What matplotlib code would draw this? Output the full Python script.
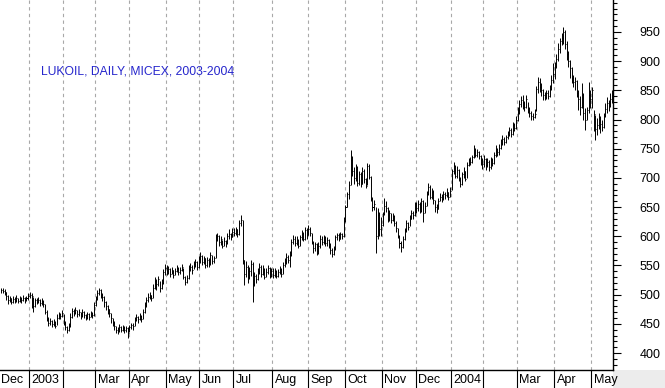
import matplotlib
matplotlib.use("Agg")
import matplotlib.pyplot as plt
from matplotlib.ticker import MultipleLocator, NullFormatter
from matplotlib.transforms import blended_transform_factory
import numpy as np

title = "LUKOIL, DAILY, MICEX, 2003-2004"

# months shown and number of trading days in each (Dec 2002 partial, May 2004 partial)
month_labels = ["Dec", "2003", "", "Mar", "Apr", "May", "Jun", "Jul", "Aug", "Sep",
                "Oct", "Nov", "Dec", "2004", "", "Mar", "Apr", "May"]
month_days = [17, 20, 19, 20, 22, 20, 20, 23, 21, 22, 22, 20, 21, 19, 20, 22, 22, 13]

close = [
    # Dec 2002
    508, 506, 504, 498, 490, 494, 488, 492, 490, 495, 489, 493, 491, 495, 490, 494, 497,
    # Jan 2003
    500, 497, 480, 490, 488, 491, 486, 489, 484, 470, 458, 452, 455, 449, 453, 447, 460, 466, 463, 468,
    # Feb
    452, 444, 440, 446, 462, 472, 468, 474, 466, 470, 463, 471, 465, 460, 466, 462, 468, 465, 482,
    # Mar
    492, 503, 508, 500, 496, 488, 480, 476, 468, 460, 452, 446, 440, 438, 444, 440, 443, 439, 442, 434,
    # Apr
    444, 448, 446, 456, 462, 458, 464, 458, 470, 482, 490, 496, 500, 494, 512, 524, 518, 526, 512, 520, 538, 546,
    # May
    540, 544, 536, 542, 534, 540, 546, 538, 542, 548, 530, 522, 528, 544, 548, 542, 552, 556, 548, 560,
    # Jun
    566, 556, 562, 550, 560, 552, 568, 558, 562, 598, 600, 590, 596, 584, 592, 588, 600, 604, 598, 608,
    # Jul
    606, 612, 604, 622, 628, 560, 535, 548, 530, 540, 552, 518, 532, 526, 540, 548, 536, 544, 530, 538, 546, 532, 540,
    # Aug
    534, 540, 532, 538, 544, 536, 550, 556, 564, 560, 568, 590, 596, 588, 594, 584, 598, 604, 596, 610, 602,
    # Sep
    612, 606, 590, 580, 586, 574, 584, 596, 590, 598, 588, 594, 584, 576, 570, 580, 598, 602, 596, 604, 600, 626,
    # Oct
    650, 672, 688, 730, 712, 700, 718, 692, 706, 690, 712, 698, 686, 720, 702, 664, 650, 655, 600, 636, 612, 620,
    # Nov
    638, 652, 648, 630, 640, 628, 634, 622, 614, 600, 588, 582, 596, 610, 622, 616, 630, 640, 636, 646,
    # Dec
    648, 656, 644, 660, 640, 652, 672, 684, 668, 676, 662, 650, 646, 660, 668, 664, 672, 670, 676, 668, 678,
    # Jan 2004
    712, 720, 704, 714, 700, 690, 706, 712, 698, 722, 730, 728, 736, 748, 740, 744, 738, 730, 724,
    # Feb
    732, 722, 728, 718, 730, 726, 740, 746, 744, 752, 760, 766, 762, 770, 776, 782, 776, 790, 786, 800,
    # Mar
    816, 826, 834, 828, 822, 836, 818, 812, 806, 804, 810, 852, 864, 856, 850, 842, 838, 846, 840, 852, 868, 878,
    # Apr
    892, 904, 920, 934, 940, 950, 930, 912, 900, 888, 872, 864, 866, 846, 836, 822, 842, 812, 800, 816, 842, 836,
    # May
    850, 810, 784, 790, 800, 792, 788, 806, 818, 828, 824, 836, 842,
]

high = [
    512, 511, 509, 505, 499, 498, 495, 497, 496, 499, 495, 498, 496, 500, 496, 498, 502,
    505, 503, 496, 494, 494, 496, 492, 494, 490, 484, 474, 462, 460, 456, 458, 455, 466, 470, 469, 473,
    466, 454, 446, 452, 468, 477, 475, 478, 474, 475, 470, 475, 472, 467, 470, 468, 472, 470, 488,
    498, 508, 512, 510, 503, 497, 489, 483, 476, 469, 460, 454, 447, 444, 449, 447, 448, 446, 447, 444,
    448, 452, 451, 462, 466, 464, 468, 465, 476, 488, 496, 502, 505, 500, 518, 530, 526, 532, 524, 526, 544, 552,
    550, 549, 545, 547, 543, 545, 551, 547, 547, 553, 546, 532, 534, 550, 554, 550, 558, 561, 557, 566,
    573, 568, 567, 563, 565, 562, 573, 568, 566, 604, 606, 602, 600, 594, 598, 594, 605, 612, 606, 614,
    614, 616, 612, 628, 636, 628, 560, 558, 550, 548, 560, 556, 538, 536, 545, 554, 550, 550, 546, 545, 550, 548, 546,
    545, 546, 542, 544, 549, 546, 556, 562, 571, 568, 574, 596, 602, 600, 600, 596, 603, 610, 608, 616, 614,
    619, 616, 606, 592, 591, 588, 590, 602, 600, 602, 600, 599, 596, 588, 580, 584, 602, 606, 606, 608, 606, 633,
    654, 676, 694, 748, 738, 718, 724, 720, 712, 710, 718, 716, 700, 726, 724, 704, 668, 662, 650, 648, 642, 633,
    642, 665, 660, 650, 645, 640, 640, 636, 626, 614, 603, 592, 600, 614, 628, 625, 636, 645, 644, 658,
    659, 662, 658, 665, 662, 658, 678, 691, 688, 682, 680, 662, 656, 666, 674, 672, 678, 676, 683, 676, 684,
    716, 727, 722, 720, 716, 702, 710, 718, 712, 727, 734, 736, 740, 756, 752, 750, 746, 740, 734,
    740, 734, 734, 730, 736, 734, 744, 756, 752, 758, 766, 773, 770, 774, 781, 788, 786, 795, 794, 806,
    822, 833, 840, 842, 832, 842, 830, 821, 815, 812, 818, 858, 873, 871, 862, 852, 848, 850, 850, 860, 876, 897,
    898, 912, 931, 940, 948, 959, 953, 935, 918, 902, 890, 876, 873, 868, 850, 840, 862, 846, 820, 822, 864, 850,
    856, 816, 808, 802, 811, 806, 800, 812, 828, 839, 834, 846, 850,
]

low = [
    503, 502, 499, 490, 484, 487, 484, 486, 485, 488, 485, 487, 486, 489, 485, 489, 491,
    494, 477, 471, 479, 484, 485, 481, 483, 479, 466, 454, 447, 448, 444, 446, 442, 448, 459, 458, 461,
    448, 439, 434, 438, 444, 460, 463, 466, 462, 463, 459, 462, 460, 456, 459, 457, 461, 460, 464,
    481, 490, 500, 494, 489, 479, 474, 467, 462, 452, 446, 439, 434, 433, 436, 436, 437, 434, 436, 425,
    436, 441, 440, 446, 454, 452, 457, 453, 458, 468, 479, 488, 492, 489, 494, 510, 508, 514, 505, 510, 519, 534,
    533, 536, 531, 535, 529, 533, 538, 533, 536, 540, 526, 516, 520, 526, 540, 536, 544, 547, 543, 546,
    555, 551, 553, 546, 548, 547, 551, 552, 554, 562, 592, 584, 585, 580, 583, 582, 586, 596, 594, 598,
    600, 602, 599, 603, 618, 552, 517, 530, 520, 526, 532, 487, 514, 520, 525, 535, 530, 533, 527, 530, 535, 528, 530,
    528, 531, 528, 530, 536, 531, 535, 547, 553, 554, 548, 566, 587, 583, 585, 580, 583, 594, 592, 594, 596,
    602, 601, 586, 572, 574, 568, 570, 580, 585, 586, 584, 584, 580, 570, 565, 568, 576, 594, 592, 595, 596, 598,
    624, 650, 664, 688, 704, 690, 695, 686, 688, 684, 690, 692, 682, 688, 698, 660, 644, 645, 571, 595, 600, 600,
    618, 636, 642, 625, 626, 622, 626, 618, 607, 597, 580, 573, 580, 594, 608, 610, 618, 630, 630, 635,
    640, 644, 640, 642, 624, 640, 652, 670, 664, 664, 656, 641, 640, 646, 660, 658, 663, 664, 668, 662, 667,
    680, 706, 700, 700, 694, 684, 688, 700, 694, 700, 720, 722, 726, 734, 736, 736, 732, 722, 716,
    718, 714, 718, 712, 716, 720, 724, 736, 738, 740, 750, 756, 756, 760, 766, 772, 770, 774, 780, 784,
    798, 810, 822, 818, 814, 820, 812, 804, 800, 799, 802, 815, 845, 848, 840, 833, 833, 836, 835, 838, 850, 862,
    870, 888, 900, 914, 928, 930, 920, 902, 890, 872, 862, 856, 850, 838, 816, 808, 820, 799, 782, 800, 812, 820,
    820, 780, 765, 774, 784, 777, 780, 786, 804, 812, 814, 822, 828,
]

y_major = 50
y_minor = 10

plt.rcParams['font.family'] = ['Liberation Sans', 'DejaVu Sans']

W, H = 665, 388
fig = plt.figure(figsize=(W / 100, H / 100), dpi=100)
fig.patch.set_facecolor('white')
# light grey corner under the price scale
fig.add_artist(plt.Rectangle((613 / W, 0), 1 - 613 / W, 18 / H, transform=fig.transFigure,
                             facecolor='#ececec', edgecolor='none', zorder=0))

ax = fig.add_axes([0, 18 / H, 613 / W, 370 / H])
ax.set_facecolor('white')

n = len(close)
x = np.arange(n)
c = np.array(close)
hi = np.array(high)
lo = np.array(low)

ax.vlines(x, lo, hi, color='black', linewidth=0.7, zorder=3)
ax.hlines(c, x, x + 0.6, color='black', linewidth=0.7, zorder=3)

bounds = np.cumsum([0] + month_days[:-1]) - 0.5
for b in bounds[1:]:
    ax.axvline(b, color='#a8a8a8', linewidth=0.8, linestyle=(0, (3, 3)), zorder=1)

ax.set_xlim(-0.7, n - 0.5)
ax.set_ylim(370.9, 1004.8)

for s in ['left', 'top']:
    ax.spines[s].set_visible(False)
ax.spines['right'].set_linewidth(1.0)
ax.spines['bottom'].set_linewidth(1.0)

ax.yaxis.tick_right()
ax.yaxis.set_major_locator(MultipleLocator(y_major))
ax.yaxis.set_minor_locator(MultipleLocator(y_minor))
ax.yaxis.set_minor_formatter(NullFormatter())
ax.set_yticks([v for v in range(400, 1001, y_major) if v <= 950])
ax.tick_params(axis='y', which='major', direction='out', length=5.5, width=0.8,
               pad=13.5, labelsize=9, colors='black')
ax.tick_params(axis='y', which='minor', direction='out', length=3, width=0.8, colors='black')

# month separators under the axis
ax.set_xticks(bounds[1:])
ax.set_xticklabels([])
ax.tick_params(axis='x', which='major', direction='out', length=13, width=0.8, colors='black')

trans = blended_transform_factory(ax.transData, ax.transAxes)
for b, lab in zip(bounds, month_labels):
    if lab:
        xpos = b + 1.6 if b > 0 else -0.4
        ax.text(xpos, -0.027, lab, transform=trans, ha='left', va='center',
                fontsize=9, color='black', clip_on=False)

ax.text(41 / 613, 1 - 72 / 370, title, transform=ax.transAxes, ha='left', va='center',
        fontsize=8.7, color='#2626cc')

fig.savefig('out.png', dpi=100)
